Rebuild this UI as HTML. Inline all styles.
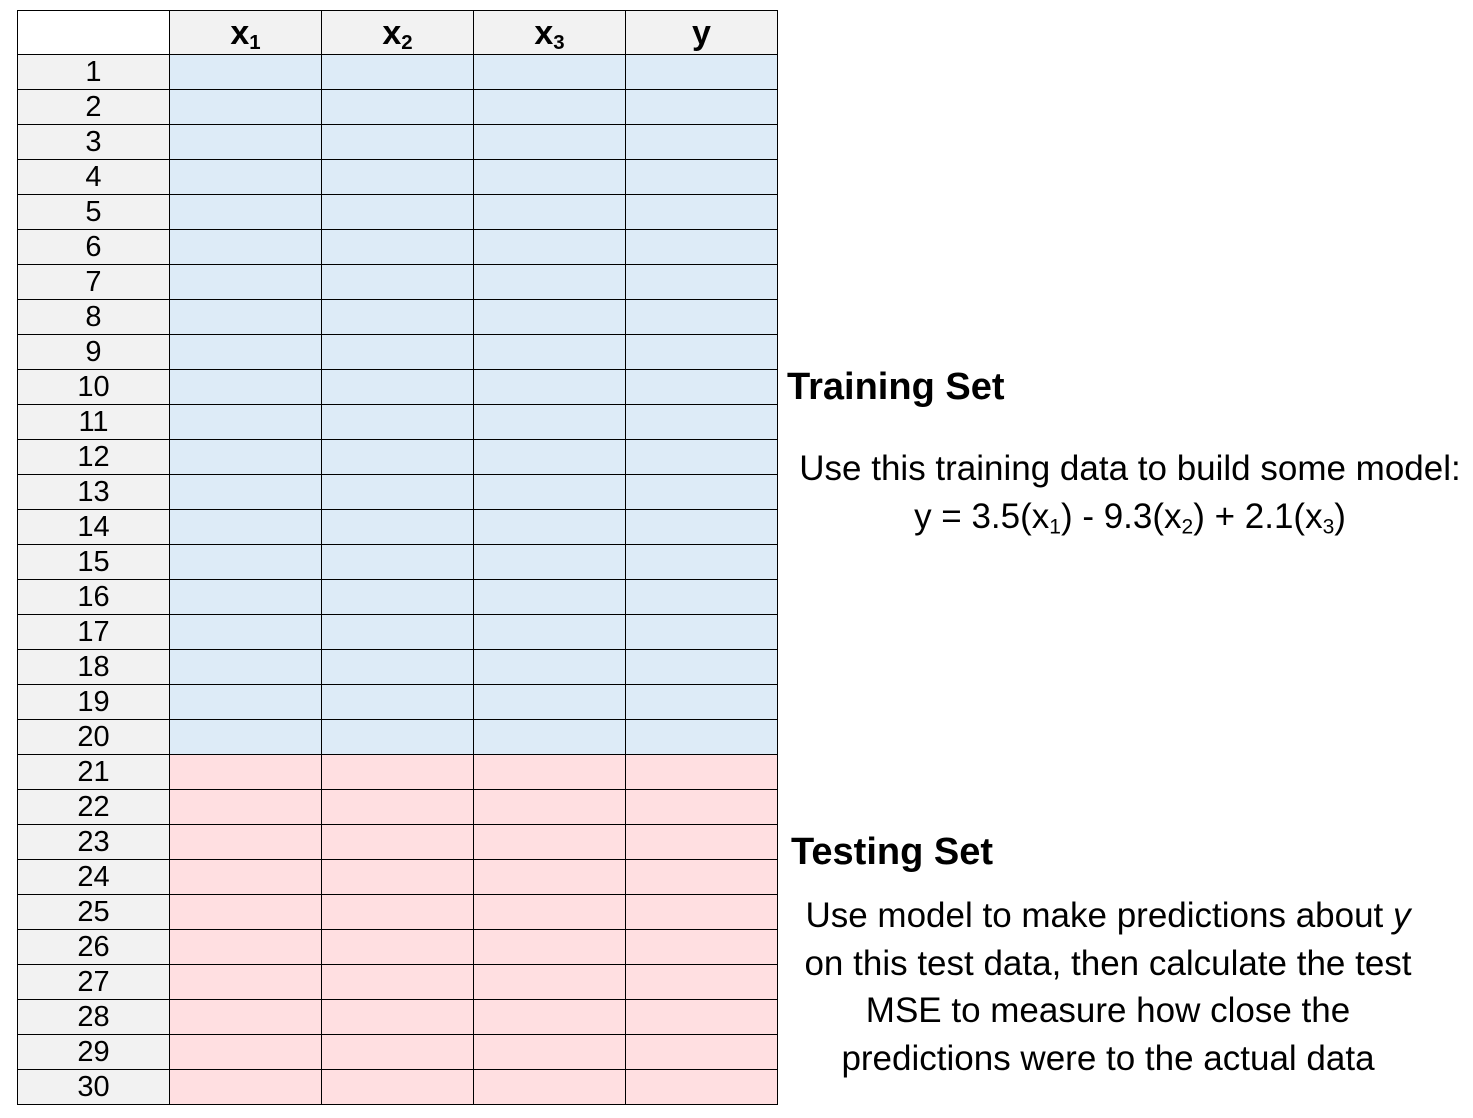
<!DOCTYPE html>
<html><head><style>
body{margin:0;width:1473px;height:1118px;background:#fff;position:relative;font-family:"Liberation Sans",sans-serif;overflow:hidden}
table{position:absolute;left:17px;top:10px;border-collapse:collapse;table-layout:fixed}
td{border:1px solid #000;width:151px;height:34px;padding:0;text-align:center;font-size:29px;line-height:34px;overflow:hidden}
tr.h td{height:43px;background:#f2f2f2;font-weight:bold;font-size:34px;line-height:40px}
tr.h td:first-child{background:#fff}
td.n{background:#f2f2f2}
tr.b td{background:#ddebf7}
tr.p td{background:#ffdfe1}
tr.b td.n,tr.p td.n{background:#f2f2f2}
sub{font-size:60%;line-height:0;vertical-align:-0.25em}
.t{position:absolute;white-space:nowrap;color:#000}
.c{text-align:center}
</style></head><body>
<table>
<tr class="h"><td></td><td>x<sub>1</sub></td><td>x<sub>2</sub></td><td>x<sub>3</sub></td><td>y</td></tr>
<tr class="b"><td class="n">1</td><td></td><td></td><td></td><td></td></tr>
<tr class="b"><td class="n">2</td><td></td><td></td><td></td><td></td></tr>
<tr class="b"><td class="n">3</td><td></td><td></td><td></td><td></td></tr>
<tr class="b"><td class="n">4</td><td></td><td></td><td></td><td></td></tr>
<tr class="b"><td class="n">5</td><td></td><td></td><td></td><td></td></tr>
<tr class="b"><td class="n">6</td><td></td><td></td><td></td><td></td></tr>
<tr class="b"><td class="n">7</td><td></td><td></td><td></td><td></td></tr>
<tr class="b"><td class="n">8</td><td></td><td></td><td></td><td></td></tr>
<tr class="b"><td class="n">9</td><td></td><td></td><td></td><td></td></tr>
<tr class="b"><td class="n">10</td><td></td><td></td><td></td><td></td></tr>
<tr class="b"><td class="n">11</td><td></td><td></td><td></td><td></td></tr>
<tr class="b"><td class="n">12</td><td></td><td></td><td></td><td></td></tr>
<tr class="b"><td class="n">13</td><td></td><td></td><td></td><td></td></tr>
<tr class="b"><td class="n">14</td><td></td><td></td><td></td><td></td></tr>
<tr class="b"><td class="n">15</td><td></td><td></td><td></td><td></td></tr>
<tr class="b"><td class="n">16</td><td></td><td></td><td></td><td></td></tr>
<tr class="b"><td class="n">17</td><td></td><td></td><td></td><td></td></tr>
<tr class="b"><td class="n">18</td><td></td><td></td><td></td><td></td></tr>
<tr class="b"><td class="n">19</td><td></td><td></td><td></td><td></td></tr>
<tr class="b"><td class="n">20</td><td></td><td></td><td></td><td></td></tr>
<tr class="p"><td class="n">21</td><td></td><td></td><td></td><td></td></tr>
<tr class="p"><td class="n">22</td><td></td><td></td><td></td><td></td></tr>
<tr class="p"><td class="n">23</td><td></td><td></td><td></td><td></td></tr>
<tr class="p"><td class="n">24</td><td></td><td></td><td></td><td></td></tr>
<tr class="p"><td class="n">25</td><td></td><td></td><td></td><td></td></tr>
<tr class="p"><td class="n">26</td><td></td><td></td><td></td><td></td></tr>
<tr class="p"><td class="n">27</td><td></td><td></td><td></td><td></td></tr>
<tr class="p"><td class="n">28</td><td></td><td></td><td></td><td></td></tr>
<tr class="p"><td class="n">29</td><td></td><td></td><td></td><td></td></tr>
<tr class="p"><td class="n">30</td><td></td><td></td><td></td><td></td></tr>
</table>
<div class="t" style="left:787px;top:364px;font-size:38px;font-weight:bold;line-height:46px">Training Set</div>
<div class="t c" style="left:780px;width:700px;top:445px;font-size:35px;line-height:48px">Use this training data to build some model:<br>y = 3.5(x<sub>1</sub>) - 9.3(x<sub>2</sub>) + 2.1(x<sub>3</sub>)</div>
<div class="t" style="left:791px;top:829px;font-size:38px;font-weight:bold;line-height:46px">Testing Set</div>
<div class="t c" style="left:768px;width:680px;top:892px;font-size:35px;line-height:47.5px">Use model to make predictions about <i>y</i><br>on this test data, then calculate the test<br>MSE to measure how close the<br>predictions were to the actual data</div>
</body></html>
